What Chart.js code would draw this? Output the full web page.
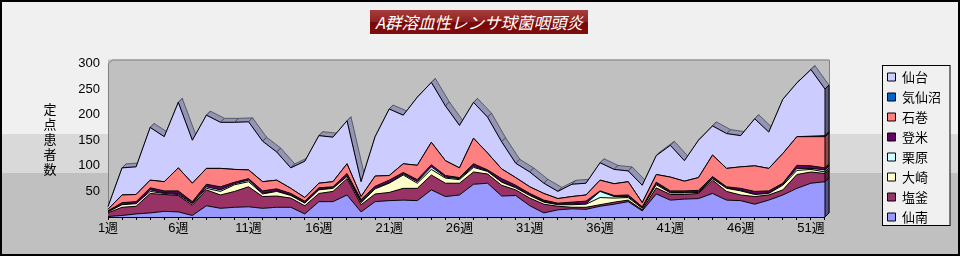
<!DOCTYPE html>
<html lang="ja">
<head>
<meta charset="utf-8">
<title>A群溶血性レンサ球菌咽頭炎</title>
<script src="https://cdn.jsdelivr.net/npm/chart.js"></script>
<style>
  body { margin: 0; }
  #wrap {
    position: relative;
    width: 960px;
    height: 256px;
    overflow: hidden;
    background: linear-gradient(to bottom, #f0f0f0 0px, #f0f0f0 134px, #d9d9d9 134px, #d9d9d9 173px, #c0c0c0 173px);
    font-family: "Noto Sans CJK JP", sans-serif;
  }
  #title {
    position: absolute;
    left: 370px;
    top: 10px;
    width: 218px;
    height: 24px;
    line-height: 24px;
    text-align: center;
    color: #fff;
    font-size: 16.5px;
    font-style: italic;
    background: linear-gradient(to bottom, #a83c3c 0%, #8e2020 50%, #7a0808 52%, #800c0c 100%);
  }
  #ytitle {
    position: absolute;
    left: 43px;
    top: 101px;
    width: 14px;
    font-size: 13px;
    line-height: 15px;
    text-align: center;
    color: #000;
  }
  #frame {
    position: absolute;
    left: 0;
    top: 0;
    width: 960px;
    height: 256px;
    box-sizing: border-box;
    border: 2px solid #000;
    pointer-events: none;
  }
  canvas { position: absolute; left: 0; top: 0; }
</style>
</head>
<body>
<div id="wrap">
  <canvas id="chart" width="960" height="256"></canvas>
  <div id="title">A群溶血性レンサ球菌咽頭炎</div>
  <div id="ytitle">定<br>点<br>患<br>者<br>数</div>
  <div id="frame"></div>
</div>
<script>
// 週ラベル
var weeks = [];
for (var w = 1; w <= 52; w++) {
    weeks.push(w + '週');
}
var yTicks = [50, 100, 150, 200, 250, 300];

// 保健所別 定点患者数（積み上げ順：下から）
var senan      = [1,3,6,8,11,10,3,22,17,19, 20,17,19,19,6,30,30,43,10,30, 32,33,32,53,40,43,64,66,41,42, 22,8,14,16,15,21,25,30,12,45, 33,35,36,46,33,32,25,33,43,56, 66,69];
var shiogama   = [7,16,15,38,33,32,20,31,26,31, 39,23,22,18,16,16,20,32,14,15, 16,23,24,29,26,23,24,18,21,11, 15,17,7,3,4,3,4,3,2,12, 11,9,10,26,17,11,15,10,10,27, 22,16];
var osaki      = [2,5,5,4,2,2,3,3,7,13, 10,5,9,5,5,7,6,4,4,10, 18,26,10,11,10,7,9,5,6,4, 5,4,3,5,6,14,8,5,3,6, 3,3,2,3,6,8,4,3,9,8, 5,3];
var kurihara   = [0,0,0,3,1,2,1,3,3,2, 3,1,1,1,1,1,1,1,1,1, 1,2,3,5,2,2,2,1,1,1, 1,1,1,1,1,12,3,2,1,2, 1,1,1,1,1,1,1,1,2,4, 2,4];
var tome       = [2,4,4,4,4,5,3,5,6,3, 3,5,4,3,3,3,2,5,5,4, 5,3,4,4,3,2,5,2,6,4, 3,3,2,4,5,1,2,3,2,3, 3,3,3,3,2,4,5,4,2,6, 5,4];
var ishinomaki = [3,15,14,15,18,45,36,31,36,25, 17,18,17,10,7,9,10,19,6,20, 9,17,28,44,29,19,50,33,19,15, 13,13,9,11,12,21,23,26,8,15, 27,19,25,42,36,42,50,44,58,56, 57,61];
var kesennuma  = [0,0,0,0,0,0,0,0,0,0, 0,0,0,0,0,0,0,0,0,0, 0,0,0,0,0,0,0,0,0,0, 0,0,0,0,0,0,0,0,0,0, 0,0,0,0,0,0,0,0,0,0, 1,2];
var sendai     = [5,53,54,103,88,128,84,104,90,92, 94,79,55,40,71,93,87,84,29,77, 130,95,133,117,107,83,70,70,53,28, 29,20,14,24,23,34,28,21,34,37, 62,40,73,57,68,61,92,71,106,105, 130,91];

var seriesNames  = ['仙南', '塩釜', '大崎', '栗原', '登米', '石巻', '気仙沼', '仙台'];
var seriesValues = [senan, shiogama, osaki, kurihara, tome, ishinomaki, kesennuma, sendai];
var fillColors   = ['#9999ff', '#993366', '#ffffcc', '#ccffff', '#660066', '#ff8080', '#0066cc', '#ccccff'];
var sideColors   = ['#55558a', '#5c1f3d', '#99997a', '#7a9999', '#3d003d', '#8a4a4a', '#003d7a', '#5e5e7c'];

var depth = 4;
var tickFont = '"Liberation Sans", "Noto Sans CJK JP", sans-serif';

// 3D風の壁・上面・右端面と凡例枠
var plot3d = {
    id: 'plot3d',
    beforeDraw: function (chart) {
        var ctx = chart.ctx;
        var a = chart.chartArea;
        ctx.save();
        ctx.fillStyle = '#c0c0c0';
        ctx.fillRect(a.left, a.top - depth, a.right - a.left + depth, a.bottom - a.top + depth);
        ctx.strokeStyle = '#808080';
        ctx.lineWidth = 1;
        ctx.beginPath();
        ctx.moveTo(a.left + 0.5, a.bottom);
        ctx.lineTo(a.left + 0.5, a.top);
        ctx.lineTo(a.left + depth + 0.5, a.top - depth + 0.5);
        ctx.lineTo(a.right + depth + 0.5, a.top - depth + 0.5);
        ctx.lineTo(a.right + depth + 0.5, a.bottom - depth);
        ctx.stroke();

        var lg = chart.legend;
        var fx = Math.round(lg.left + 2) + 0.5;
        var fy = Math.round(lg.top + 1) + 0.5;
        var fw = Math.round(lg.right - 1) - fx;
        var fh = 160;
        ctx.fillStyle = '#f0f0f0';
        ctx.fillRect(fx, fy, fw, fh);
        ctx.strokeStyle = '#000';
        ctx.strokeRect(fx, fy, fw, fh);
        ctx.restore();
    },
    beforeDatasetsDraw: function (chart) {
        var ctx = chart.ctx;
        var pts = chart.getDatasetMeta(chart.data.datasets.length - 1).data;
        ctx.save();
        ctx.fillStyle = '#9494b4';
        ctx.strokeStyle = '#3a3a48';
        ctx.lineWidth = 0.7;
        for (var i = 0; i < pts.length - 1; i++) {
            var p = pts[i];
            var q = pts[i + 1];
            ctx.beginPath();
            ctx.moveTo(p.x, p.y);
            ctx.lineTo(q.x, q.y);
            ctx.lineTo(q.x + depth, q.y - depth);
            ctx.lineTo(p.x + depth, p.y - depth);
            ctx.closePath();
            ctx.fill();
            ctx.stroke();
        }
        ctx.restore();
    },
    afterDatasetsDraw: function (chart) {
        var ctx = chart.ctx;
        var base = chart.scales.y.getPixelForValue(0);
        var n = chart.data.datasets.length;
        ctx.save();
        ctx.strokeStyle = '#000';
        ctx.lineWidth = 1;
        for (var j = 0; j < n; j++) {
            var pts = chart.getDatasetMeta(j).data;
            var top = pts[pts.length - 1];
            var bottom = j == 0 ? base : chart.getDatasetMeta(j - 1).data[pts.length - 1].y;
            if (bottom - top.y < 0.5) {
                continue;
            }
            ctx.fillStyle = sideColors[j];
            ctx.beginPath();
            ctx.moveTo(top.x, bottom);
            ctx.lineTo(top.x, top.y);
            ctx.lineTo(top.x + depth, top.y - depth);
            ctx.lineTo(top.x + depth, bottom - depth);
            ctx.closePath();
            ctx.fill();
            ctx.stroke();
        }
        ctx.restore();
    }
};

var datasets = [];
for (var i = 0; i < seriesNames.length; i++) {
    datasets.push({
        label: seriesNames[i],
        data: seriesValues[i],
        backgroundColor: fillColors[i],
        borderColor: '#000',
        borderWidth: 1,
        fill: i == 0 ? 'origin' : '-1',
        pointRadius: 0,
        tension: 0
    });
}

var chart = new Chart(document.getElementById('chart'), {
    type: 'line',
    data: {
        labels: weeks,
        datasets: datasets
    },
    options: {
        responsive: false,
        animation: false,
        layout: { padding: { top: 63.5, right: 9, bottom: 0, left: 0 } },
        plugins: {
            legend: {
                position: 'right',
                align: 'start',
                reverse: true,
                labels: {
                    boxWidth: 8,
                    boxHeight: 8,
                    padding: 7,
                    color: '#000',
                    font: { size: 13, family: '"Noto Sans CJK JP", sans-serif' }
                }
            },
            tooltip: { enabled: false }
        },
        scales: {
            x: {
                offset: false,
                grid: { display: true, drawOnChartArea: false, drawTicks: true, tickLength: 3, color: '#000' },
                border: { display: true, color: '#000' },
                ticks: {
                    autoSkip: false,
                    maxRotation: 0,
                    padding: 1,
                    color: '#000',
                    font: { size: 13, family: tickFont },
                    callback: function (val, index) {
                        return index % 5 == 0 ? this.getLabelForValue(val) : '';
                    }
                },
                afterFit: function (scale) { scale.height = 39; }
            },
            y: {
                stacked: true,
                min: 0,
                max: 300,
                grid: { display: false, drawTicks: false },
                border: { display: false },
                ticks: {
                    stepSize: 50,
                    padding: 8,
                    color: '#000',
                    font: { size: 13, family: tickFont },
                    callback: function (val) {
                        return yTicks.indexOf(val) >= 0 ? val : '';
                    }
                },
                afterFit: function (scale) { scale.width = 108; }
            },
            y2: {
                position: 'right',
                grid: { display: false, drawTicks: false },
                border: { display: false },
                ticks: { display: false },
                afterFit: function (scale) { scale.width = 55.5; }
            }
        }
    },
    plugins: [plot3d]
});
</script>
</body>
</html>
